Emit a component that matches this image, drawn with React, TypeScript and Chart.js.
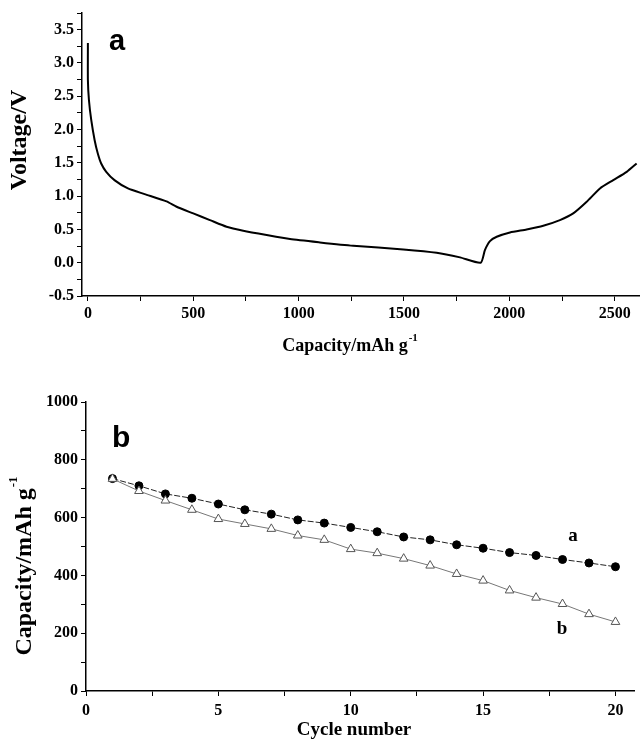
import React, { useEffect, useRef } from "react";
import { Chart, registerables } from "chart.js";

Chart.register(...registerables);

// ---- Panel a: discharge/charge curve ----
const capacityA: number[] = [0, 0, 5, 16, 32, 47, 63, 87, 126, 190, 269, 373, 421, 500, 579, 658, 737, 848, 959, 1101, 1259, 1497, 1655, 1766, 1864, 1884, 1908, 1940, 2003, 2082, 2161, 2240, 2303, 2367, 2430, 2493, 2557, 2604];
const voltageA: number[] = [3.3, 2.74, 2.44, 2.14, 1.84, 1.64, 1.49, 1.365, 1.24, 1.115, 1.03, 0.92, 0.84, 0.74, 0.64, 0.54, 0.48, 0.415, 0.355, 0.305, 0.255, 0.2, 0.15, 0.08, 0.0, 0.19, 0.325, 0.39, 0.455, 0.5, 0.555, 0.64, 0.74, 0.915, 1.115, 1.24, 1.365, 1.49];

// ---- Panel b: cycling ----
const cycles: number[] = [1, 2, 3, 4, 5, 6, 7, 8, 9, 10, 11, 12, 13, 14, 15, 16, 17, 18, 19, 20];
const seriesA: number[] = [735, 710, 682, 667, 647, 627, 612, 592, 581, 566, 551, 533, 523, 506, 494, 479, 469, 455, 443, 430];
const seriesB: number[] = [734, 692, 659, 627, 595, 578, 561, 538, 523, 491, 477, 458, 434, 405, 382, 348, 323, 301, 266, 239];

const SERIF = "'Liberation Serif', 'Times New Roman', serif";
const SANS = "'Liberation Sans', Arial, sans-serif";
const tickFont = { family: SERIF, size: 16, weight: "bold" as const };

type Txt = {
  text: string;
  sup?: string;
  x: number;
  y: number;
  font: string;
  supFont?: string;
  supRise?: number;
  rot?: number;
  align?: "left" | "center";
  baseline?: CanvasTextBaseline;
};

const textPlugin = (id: string, items: Txt[]) => ({
  id,
  afterDraw(chart: any) {
    const ctx: CanvasRenderingContext2D = chart.ctx;
    items.forEach((it) => {
      ctx.save();
      ctx.translate(it.x, it.y);
      if (it.rot) ctx.rotate(it.rot);
      ctx.fillStyle = "#000";
      ctx.textBaseline = it.baseline || "middle";
      ctx.textAlign = "left";
      ctx.font = it.font;
      const w1 = ctx.measureText(it.text).width;
      let w2 = 0;
      if (it.sup && it.supFont) {
        ctx.font = it.supFont;
        w2 = ctx.measureText(it.sup).width + 1;
      }
      const total = w1 + w2;
      const start = it.align === "left" ? 0 : -total / 2;
      ctx.font = it.font;
      ctx.fillText(it.text, start, 0);
      if (it.sup && it.supFont) {
        ctx.font = it.supFont;
        ctx.fillText(it.sup, start + w1 + 1, -(it.supRise || 8));
      }
      ctx.restore();
    });
  },
});

const axisGrid = { display: true, drawOnChartArea: false, drawTicks: true, tickLength: 5, color: "#000", lineWidth: 1 };
const axisBorder = { display: true, color: "#000", width: 1.5 };

export default function App() {
  const topRef = useRef<HTMLCanvasElement>(null);
  const botRef = useRef<HTMLCanvasElement>(null);

  useEffect(() => {
    const topChart = new Chart(topRef.current as HTMLCanvasElement, {
      type: "scatter",
      data: {
        datasets: [
          {
            data: capacityA.map((c, i) => ({ x: c, y: voltageA[i] })),
            showLine: true,
            borderColor: "#000",
            borderWidth: 2,
            pointRadius: 0,
            tension: 0.2,
          },
        ],
      },
      options: {
        responsive: false,
        animation: false,
        layout: { padding: { top: 13, left: 0, right: 0, bottom: 0 } },
        plugins: { legend: { display: false }, tooltip: { enabled: false } },
        scales: {
          x: {
            type: "linear",
            min: -28,
            max: 2620,
            afterBuildTicks: (s: any) => {
              s.ticks = s.ticks.filter((t: any) => Math.abs(t.value % 250) < 1e-6);
            },
            afterFit: (s: any) => {
              s.height = 74;
            },
            ticks: {
              stepSize: 250,
              includeBounds: false,
              autoSkip: false,
              maxRotation: 0,
              padding: 3,
              color: "#000",
              font: tickFont,
              callback: (v: any) => (Math.abs(v % 500) < 1e-6 ? String(v) : ""),
            },
            grid: axisGrid,
            border: axisBorder,
          },
          y: {
            type: "linear",
            min: -0.5,
            max: 3.75,
            afterFit: (s: any) => {
              s.width = 82;
            },
            ticks: {
              stepSize: 0.25,
              autoSkip: false,
              padding: 3,
              color: "#000",
              font: tickFont,
              callback: (v: any) => (Math.round(Number(v) * 4) % 2 === 0 ? Number(v).toFixed(1) : ""),
            },
            grid: axisGrid,
            border: axisBorder,
          },
        },
      },
      plugins: [
        textPlugin("textsTop", [
          { text: "Voltage/V", x: 20, y: 140, font: `bold 24px ${SERIF}`, rot: -Math.PI / 2 },
          {
            text: "Capacity/mAh g",
            sup: "-1",
            x: 350,
            y: 346,
            font: `bold 18px ${SERIF}`,
            supFont: `bold 11px ${SERIF}`,
            supRise: 8,
          },
          { text: "a", x: 109, y: 50, font: `bold 29px ${SANS}`, align: "left", baseline: "alphabetic" },
        ]),
      ],
    } as any);

    const botChart = new Chart(botRef.current as HTMLCanvasElement, {
      type: "scatter",
      data: {
        datasets: [
          {
            data: cycles.map((c, i) => ({ x: c, y: seriesB[i] })),
            showLine: true,
            borderColor: "#777",
            borderWidth: 1,
            pointStyle: "triangle",
            pointRadius: 5,
            pointBackgroundColor: "#fff",
            pointBorderColor: "#555",
            pointBorderWidth: 1,
            order: 0,
          },
          {
            data: cycles.map((c, i) => ({ x: c, y: seriesA[i] })),
            showLine: true,
            borderColor: "#222",
            borderWidth: 1,
            borderDash: [6, 2],
            pointStyle: "circle",
            pointRadius: 4,
            pointBackgroundColor: "#000",
            pointBorderColor: "#000",
            pointBorderWidth: 1,
            order: 1,
          },
        ],
      },
      options: {
        responsive: false,
        animation: false,
        layout: { padding: { top: 32, left: 0, right: 0, bottom: 0 } },
        plugins: { legend: { display: false }, tooltip: { enabled: false } },
        scales: {
          x: {
            type: "linear",
            min: 0,
            max: 20.7,
            afterBuildTicks: (s: any) => {
              s.ticks = s.ticks.filter(
                (t: any) => Math.abs(t.value * 2 - Math.round(t.value * 2)) < 1e-6 && Math.round(t.value * 2) % 5 === 0
              );
            },
            afterFit: (s: any) => {
              s.height = 50;
            },
            ticks: {
              stepSize: 2.5,
              includeBounds: false,
              autoSkip: false,
              maxRotation: 0,
              padding: 5,
              color: "#000",
              font: tickFont,
              callback: (v: any) => (Math.abs(v % 5) < 1e-6 ? String(v) : ""),
            },
            grid: axisGrid,
            border: axisBorder,
          },
          y: {
            type: "linear",
            min: 0,
            max: 1000,
            afterFit: (s: any) => {
              s.width = 86;
            },
            ticks: {
              stepSize: 100,
              autoSkip: false,
              padding: 3,
              color: "#000",
              font: tickFont,
              callback: (v: any) => (Math.round(Number(v)) % 200 === 0 ? String(v) : ""),
            },
            grid: axisGrid,
            border: axisBorder,
          },
        },
      },
      plugins: [
        textPlugin("textsBot", [
          {
            text: "Capacity/mAh g",
            sup: "-1",
            x: 25,
            y: 196,
            font: `bold 24px ${SERIF}`,
            supFont: `bold 13px ${SERIF}`,
            supRise: 11,
            rot: -Math.PI / 2,
          },
          { text: "Cycle number", x: 354, y: 360, font: `bold 19px ${SERIF}` },
          { text: "b", x: 112, y: 77, font: `bold 30px ${SANS}`, align: "left", baseline: "alphabetic" },
          { text: "a", x: 573, y: 166, font: `bold 19px ${SERIF}` },
          { text: "b", x: 562, y: 259, font: `bold 19px ${SERIF}` },
        ]),
      ],
    } as any);

    return () => {
      topChart.destroy();
      botChart.destroy();
    };
  }, []);

  return (
    <div style={{ position: "absolute", left: 0, top: 0, width: 640, height: 741, background: "#fff" }}>
      <canvas ref={topRef} width={640} height={370} style={{ position: "absolute", left: 0, top: 0 }} />
      <canvas ref={botRef} width={640} height={371} style={{ position: "absolute", left: 0, top: 370 }} />
    </div>
  );
}
